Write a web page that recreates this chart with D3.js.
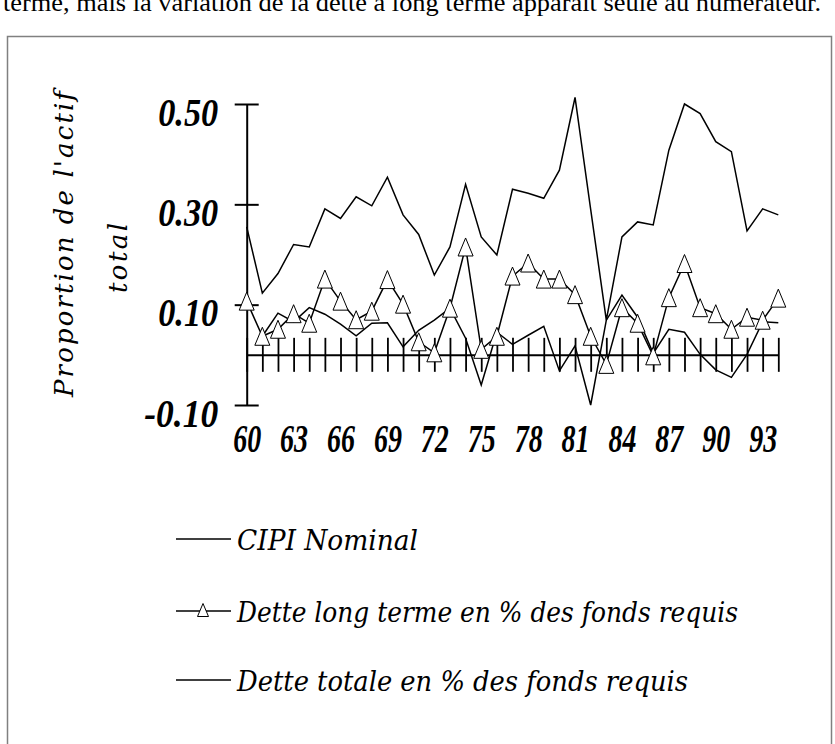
<!DOCTYPE html>
<html>
<head>
<meta charset="utf-8">
<script src="https://cdn.jsdelivr.net/npm/d3@7"></script>
<style>
  body { margin: 0; background: #fff; }
  svg { display: block; }
</style>
</head>
<body>
<figure id="chart" style="margin:0"></figure>
<script>
// years 1960-1994 (two digits on the axis)
const years = d3.range(60, 95);
const xLabels = [60, 63, 66, 69, 72, 75, 78, 81, 84, 87, 90, 93];
const yTicks = [-0.1, 0.1, 0.3, 0.5];

// upper plain line
const detteTotale = [0.255, 0.123, 0.162, 0.220, 0.215, 0.291, 0.272, 0.315, 0.297, 0.354,
  0.279, 0.240, 0.159, 0.215, 0.340, 0.235, 0.199, 0.330, 0.322, 0.312,
  0.368, 0.513, 0.290, 0.069, 0.235, 0.265, 0.259, 0.408, 0.500, 0.481,
  0.425, 0.405, 0.247, 0.291, 0.279];

// line with triangles
const detteLongTerme = [0.107, 0.037, 0.051, 0.082, 0.063, 0.151, 0.107, 0.070, 0.087, 0.150,
  0.101, 0.026, 0.004, 0.093, 0.215, 0.011, 0.037, 0.157, 0.183, 0.151,
  0.151, 0.120, 0.037, -0.019, 0.094, 0.063, -0.002, 0.114, 0.182, 0.094,
  0.082, 0.051, 0.075, 0.069, 0.113];

// lower plain line (no value for 1960)
const cipiNominal = [null, 0.037, 0.083, 0.066, 0.094, 0.081, 0.061, 0.038, 0.063, 0.064,
  0.016, 0.049, 0.069, 0.093, 0.033, -0.060, 0.045, 0.021, 0.039, 0.057,
  -0.032, 0.018, -0.100, 0.069, 0.119, 0.075, 0.003, 0.051, 0.045, 0.001,
  -0.030, -0.045, 0.001, 0.066, 0.064];

const legendNames = ["CIPI Nominal", "Dette long terme en % des fonds requis", "Dette totale en % des fonds requis"];

const W = 835, H = 744;
const tickFont = "'Liberation Serif', 'Times New Roman', serif";
const textFont = "'DejaVu Serif', serif";

const svg = d3.select("#chart").append("svg")
  .attr("width", W)
  .attr("height", H);

svg.append("rect").attr("width", W).attr("height", H).attr("fill", "#fff");

// tail of the paragraph above the chart (cut off at the top, as in the source page)
svg.append("text")
  .attr("x", 3)
  .attr("y", 11)
  .attr("font-family", tickFont)
  .attr("font-size", 26)
  .attr("textLength", 818)
  .attr("lengthAdjust", "spacingAndGlyphs")
  .text("terme, mais la variation de la dette à long terme apparaît seule au numérateur.");

// frame
svg.append("rect")
  .attr("x", 7.5)
  .attr("y", 36.5)
  .attr("width", 824)
  .attr("height", 720)
  .attr("fill", "none")
  .attr("stroke", "#808080")
  .attr("stroke-width", 1.5);

const x = d3.scaleLinear().domain([60, 94]).range([246.7, 778.3]);
const y = d3.scaleLinear().domain([-0.1, 0.5]).range([405, 104]);

// Y axis
const gy = svg.append("g")
  .attr("transform", "translate(" + x(60) + ",0)")
  .call(d3.axisLeft(y).tickValues(yTicks).tickSizeOuter(0).tickFormat(d => d.toFixed(2)));
gy.select(".domain").attr("stroke", "#000").attr("stroke-width", 2);
gy.selectAll(".tick line").attr("x1", -12).attr("x2", 12).attr("stroke", "#000").attr("stroke-width", 2);
gy.selectAll(".tick text")
  .attr("x", -28.5)
  .attr("dy", 21)
  .attr("text-anchor", "end")
  .attr("font-family", tickFont)
  .attr("font-size", 40)
  .attr("font-weight", "bold")
  .attr("font-style", "italic")
  .attr("fill", "#000")
  .attr("textLength", d => d < 0 ? 74 : 60)
  .attr("lengthAdjust", "spacingAndGlyphs");

// X axis on the zero line
const gx = svg.append("g")
  .attr("transform", "translate(0," + y(0) + ")")
  .call(d3.axisBottom(x).tickValues(years).tickSizeOuter(0)
    .tickFormat(d => xLabels.includes(d) ? d : ""));
gx.select(".domain").attr("stroke", "#000").attr("stroke-width", 2);
gx.selectAll(".tick line").attr("y1", -17).attr("y2", 17).attr("stroke", "#000").attr("stroke-width", 1.8);
gx.selectAll(".tick text")
  .attr("y", 97)
  .attr("dy", 0)
  .attr("font-family", tickFont)
  .attr("font-size", 40)
  .attr("font-weight", "bold")
  .attr("font-style", "italic")
  .attr("fill", "#000")
  .attr("textLength", 28)
  .attr("lengthAdjust", "spacingAndGlyphs");

// y title
const yTitle = svg.append("g")
  .attr("font-family", textFont)
  .attr("font-style", "italic")
  .attr("font-size", 26);
yTitle.append("text")
  .attr("transform", "translate(73,244) rotate(-90)")
  .attr("text-anchor", "middle")
  .attr("textLength", 306)
  .attr("lengthAdjust", "spacing")
  .text("Proportion de l'actif");
yTitle.append("text")
  .attr("transform", "translate(127,258) rotate(-90)")
  .attr("text-anchor", "middle")
  .attr("textLength", 70)
  .attr("lengthAdjust", "spacing")
  .text("total");

// series lines
const line = vals => d3.line()
  .defined(d => d != null)
  .x((d, i) => x(years[i]))
  .y(d => y(d))(vals);

[detteTotale, cipiNominal, detteLongTerme].forEach(s => {
  svg.append("path")
    .attr("d", line(s))
    .attr("fill", "none")
    .attr("stroke", "#000")
    .attr("stroke-width", 1.5)
    .attr("stroke-linejoin", "miter");
});

// triangle markers
const tri = (w, h) => "M0," + (-h / 2) + "L" + (w / 2) + "," + (h / 2) + "L" + (-w / 2) + "," + (h / 2) + "Z";
svg.selectAll(".tri")
  .data(detteLongTerme)
  .enter()
  .append("path")
  .attr("class", "tri")
  .attr("transform", (d, i) => "translate(" + x(years[i]) + "," + y(d) + ")")
  .attr("d", tri(15, 18))
  .attr("fill", "#fff")
  .attr("stroke", "#000")
  .attr("stroke-width", 1);

// legend
const legY = [539, 611, 680];
const legLen = [181, 501, 451];
const leg = svg.append("g");
legendNames.forEach((name, i) => {
  leg.append("line")
    .attr("x1", 176).attr("x2", 231)
    .attr("y1", legY[i]).attr("y2", legY[i])
    .attr("stroke", "#000").attr("stroke-width", 1.3);
  if (i === 1) {
    leg.append("path")
      .attr("transform", "translate(203," + (legY[i] - 1) + ")")
      .attr("d", tri(11, 13))
      .attr("fill", "#fff")
      .attr("stroke", "#000")
      .attr("stroke-width", 1);
  }
  leg.append("text")
    .attr("x", 237)
    .attr("y", legY[i] + 11)
    .attr("font-family", textFont)
    .attr("font-style", "italic")
    .attr("font-size", 27)
    .attr("textLength", legLen[i])
    .attr("lengthAdjust", "spacingAndGlyphs")
    .text(name);
});
</script>
</body>
</html>
